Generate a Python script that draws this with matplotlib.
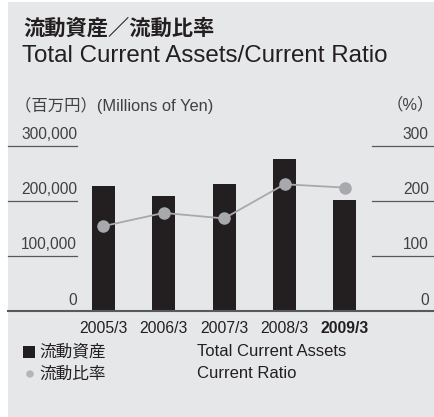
import matplotlib
matplotlib.use('Agg')
import matplotlib.pyplot as plt
from matplotlib.patches import Rectangle, Circle

# Fiscal years (March year-end)
years = ['2005/3', '2006/3', '2007/3', '2008/3', '2009/3']
# Total current assets, millions of yen
current_assets = [226000, 209000, 231000, 276000, 201000]
# Current ratio, %
current_ratio = [154, 178, 168, 230, 224]

left_ticks = [0, 100000, 200000, 300000]
left_labels = ['0', '100,000', '200,000', '300,000']
right_ticks = [0, 100, 200, 300]
right_labels = ['0', '100', '200', '300']

FONTS = ['Liberation Sans', 'Noto Sans CJK JP', 'DejaVu Sans']
plt.rcParams['font.family'] = FONTS

BG = '#e6e7e8'
INK = '#231f20'
RULE = '#58595b'
LINE = '#a7a9ac'
LABEL = '#414042'

W, H = 435, 417
fig = plt.figure(figsize=(W / 100, H / 100), dpi=100)
fig.patch.set_facecolor('white')
fig.patches.append(Rectangle((8 / W, 0), 1 - 8 / W, 1 - 2 / H,
                             transform=fig.transFigure, facecolor=BG,
                             edgecolor='none', zorder=-1))


def px(x, y):
    """pixel position (from top-left) to figure fraction"""
    return x / W, 1 - y / H


# axes spans the full panel width; baseline at y=311, 300,000 at y=145.7
ax_left, ax_right = 8, 435
base_y, top_y = 311, 145.7
ax = fig.add_axes([ax_left / W, 1 - base_y / H,
                   (ax_right - ax_left) / W, (base_y - top_y) / H])
ax.set_facecolor('none')

x0, step = 103.3, 60.4
xmin = (ax_left - x0) / step
xmax = (ax_right - x0) / step
ax.set_xlim(xmin, xmax)
ax.set_ylim(0, 300000)
for s in ax.spines.values():
    s.set_visible(False)
ax.set_xticks([])
ax.set_yticks([])

xs = list(range(len(years)))
ax.bar(xs, current_assets, width=0.38, color=INK, zorder=2)

# short rules for the left and right scales
left_end = (77 - x0) / step
right_start = (372 - x0) / step
for v in left_ticks[1:]:
    ax.plot([xmin, left_end], [v, v], color=RULE, lw=0.9, clip_on=False, zorder=1)
    ax.plot([right_start, xmax], [v, v], color=RULE, lw=0.9, clip_on=False, zorder=1)
ax.plot([xmin, xmax], [0, 0], color=RULE, lw=1.5, clip_on=False, zorder=3)

for v, lab in zip(left_ticks, left_labels):
    ax.annotate(lab, (left_end, v), xytext=(0, 2.5), textcoords='offset points',
                ha='right', va='bottom', fontsize=11.2, color=LABEL)
for v, lab in zip(right_ticks, right_labels):
    ax.annotate(lab, (xmax, v * 1000), xytext=(-4.5, 2.5), textcoords='offset points',
                ha='right', va='bottom', fontsize=11.2, color=LABEL)

ax2 = ax.twinx()
ax2.set_ylim(0, 300)
ax2.axis('off')
ax2.plot(xs, current_ratio, color=LINE, lw=1.3, marker='o', markersize=8,
         markeredgecolor=LINE, markerfacecolor=LINE, clip_on=False, zorder=4)

# category labels under the baseline
for i, yr in enumerate(years):
    ax.annotate(yr, (i, 0), xytext=(0, -7), textcoords='offset points',
                ha='center', va='top', fontsize=11.3, color=INK,
                fontweight='bold' if i == len(years) - 1 else 'normal')

# headings
fig.text(*px(23, 28), '流動資産／流動比率', fontsize=15.3, fontweight='bold',
         color=INK, va='center', ha='left')
fig.text(*px(22, 56), 'Total Current Assets/Current Ratio', fontsize=17.4,
         color=INK, va='center', ha='left')
fig.text(*px(15, 105), '（百万円）(Millions of Yen)', fontsize=11.8,
         color=LABEL, va='center', ha='left')
fig.text(*px(434, 105), '（%）', fontsize=11.8,
         color=LABEL, va='center', ha='right')

# legend
fig.patches.append(Rectangle(px(23, 358), 12 / W, 12 / H, transform=fig.transFigure,
                             facecolor=INK, edgecolor='none'))
fig.text(*px(39, 352), '流動資産', fontsize=12, color=INK, va='center', ha='left')
fig.patches.append(Circle(px(30, 374), 3.8 / W, transform=fig.transFigure,
                          facecolor='#b3b5b8', edgecolor='none'))
fig.text(*px(39, 374), '流動比率', fontsize=12, color=INK, va='center', ha='left')
fig.text(*px(197, 352), 'Total Current Assets', fontsize=12, color=INK,
         va='center', ha='left')
fig.text(*px(197, 374), 'Current Ratio', fontsize=12, color=INK,
         va='center', ha='left')

fig.savefig('out.png', dpi=100, facecolor=fig.get_facecolor())
